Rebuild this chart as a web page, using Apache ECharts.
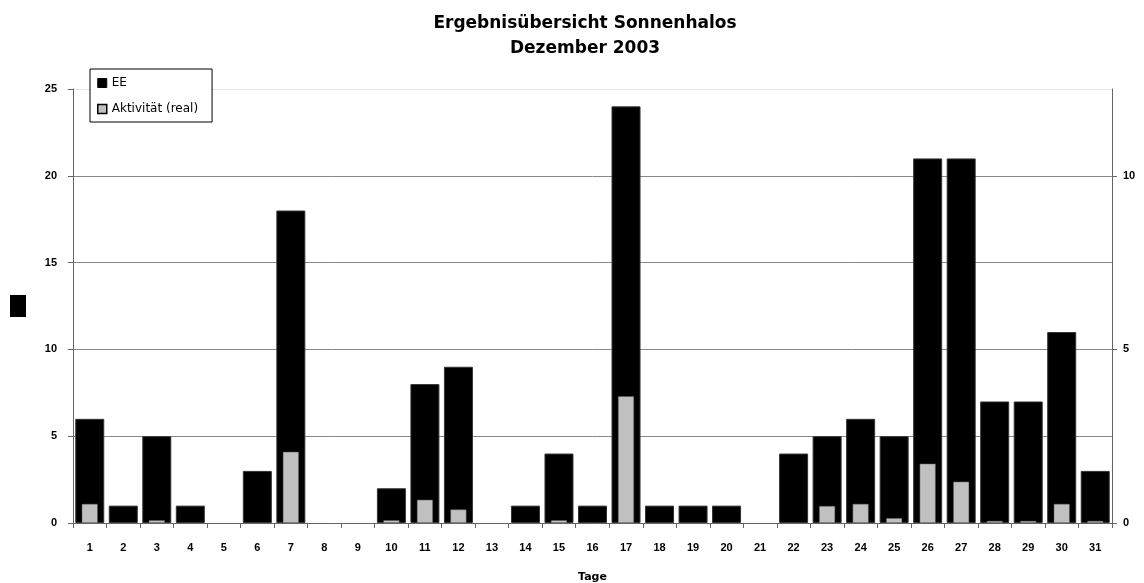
<!DOCTYPE html>
<html>
<head>
<meta charset="utf-8">
<script src="https://cdn.jsdelivr.net/npm/echarts@6/dist/echarts.min.js"></script>
<style>
    html, body {margin: 0; padding: 0; background: #fff;}
    #main {width: 1144px; height: 583px;}
</style>
</head>
<body>
<div id="main"></div>
<script>
// Tage im Dezember 2003
const tage = ['1', '2', '3', '4', '5', '6', '7', '8', '9', '10', '11', '12', '13', '14', '15', '16',
    '17', '18', '19', '20', '21', '22', '23', '24', '25', '26', '27', '28', '29', '30', '31'];
// EE pro Tag (linke Achse)
const ee = [6, 1, 5, 1, 0, 3, 18, 0, 0, 2, 8, 9, 0, 1, 4, 1, 24, 1, 1, 1, 0, 4, 5, 6, 5, 21, 21, 7, 7, 11, 3];
// Aktivität (real), rechte Achse
const aktivitaet = [0.55, 0, 0.08, 0, 0, 0, 2.05, 0, 0, 0.08, 0.67, 0.39, 0, 0, 0.08, 0, 3.65, 0, 0, 0, 0,
    0, 0.49, 0.55, 0.14, 1.71, 1.19, 0.06, 0.06, 0.55, 0.06];

const font = 'Liberation Sans, Arial, sans-serif';
const wide = 'DejaVu Sans, sans-serif';
const chart = echarts.init(document.getElementById('main'));

// 0-Werte nicht zeichnen (sonst bleibt der Rahmen als Strich stehen)
const noZero = arr => arr.map(v => v === 0 ? '-' : v);

const option = {
    animation: false,
    backgroundColor: '#fff',
    title: {
        text: 'Ergebnisübersicht Sonnenhalos\nDezember 2003',
        left: 580,
        top: 6,
        textAlign: 'center',
        textStyle: {fontFamily: wide, fontSize: 17, fontWeight: 'bold', color: '#000', lineHeight: 25}
    },
    legend: {
        orient: 'vertical',
        left: 90,
        top: 69,
        padding: [7, 14, 6, 7],
        itemGap: 12,
        itemWidth: 9,
        itemHeight: 9,
        borderColor: '#000',
        borderWidth: 1,
        backgroundColor: '#fff',
        textStyle: {fontFamily: wide, fontSize: 12, color: '#000', lineHeight: 14},
        data: [
            {name: 'EE', icon: 'rect', itemStyle: {color: '#000', borderColor: '#000', borderWidth: 1}},
            {name: 'Aktivität (real)', icon: 'rect', itemStyle: {color: '#c0c0c0', borderColor: '#000', borderWidth: 1.5}}
        ]
    },
    grid: {left: 73, right: 32, top: 89, bottom: 60, outerBoundsMode: 'none'},
    xAxis: [
        {
            type: 'category',
            data: tage,
            name: 'Tage',
            nameLocation: 'middle',
            nameGap: 49,
            nameTextStyle: {fontFamily: wide, fontSize: 11, fontWeight: 'bold', color: '#000'},
            axisLine: {lineStyle: {color: '#666', width: 1}},
            axisTick: {show: true, length: 5, lineStyle: {color: '#666'}},
            axisLabel: {fontFamily: font, fontSize: 11, fontWeight: 'bold', color: '#000', margin: 19}
        },
        {
            // zweite Achse, damit die grauen Balken mittig im schwarzen liegen
            type: 'category',
            data: tage,
            show: false
        }
    ],
    yAxis: [
        {
            type: 'value',
            min: 0,
            max: 25,
            interval: 5,
            axisLine: {show: true, lineStyle: {color: '#666'}},
            axisTick: {show: true, length: 5, lineStyle: {color: '#666'}},
            axisLabel: {fontFamily: font, fontSize: 11, fontWeight: 'bold', color: '#000', margin: 16},
            splitLine: {
                show: true,
                lineStyle: {color: ['#888', '#888', '#888', '#888', '#888', '#e6e6e6'], width: 1}
            }
        },
        {
            type: 'value',
            min: 0,
            max: 12.5,
            interval: 5,
            axisLine: {show: true, lineStyle: {color: '#666'}},
            axisTick: {show: true, length: 5, lineStyle: {color: '#666'}},
            axisLabel: {fontFamily: font, fontSize: 11, fontWeight: 'bold', color: '#000', margin: 11, showMaxLabel: false},
            splitLine: {show: false}
        }
    ],
    graphic: [
        {type: 'rect', left: 10, top: 295, shape: {width: 16, height: 22}, style: {fill: '#000'}}
    ],
    series: [
        {
            name: 'EE',
            type: 'bar',
            xAxisIndex: 0,
            yAxisIndex: 0,
            data: noZero(ee),
            barWidth: 29,
            itemStyle: {color: '#000', borderColor: '#333', borderWidth: 1}
        },
        {
            name: 'Aktivität (real)',
            type: 'bar',
            xAxisIndex: 1,
            yAxisIndex: 1,
            data: noZero(aktivitaet),
            barWidth: 16,
            itemStyle: {color: '#c0c0c0', borderColor: '#555', borderWidth: 0.5}
        }
    ]
};

chart.setOption(option);
</script>
</body>
</html>
